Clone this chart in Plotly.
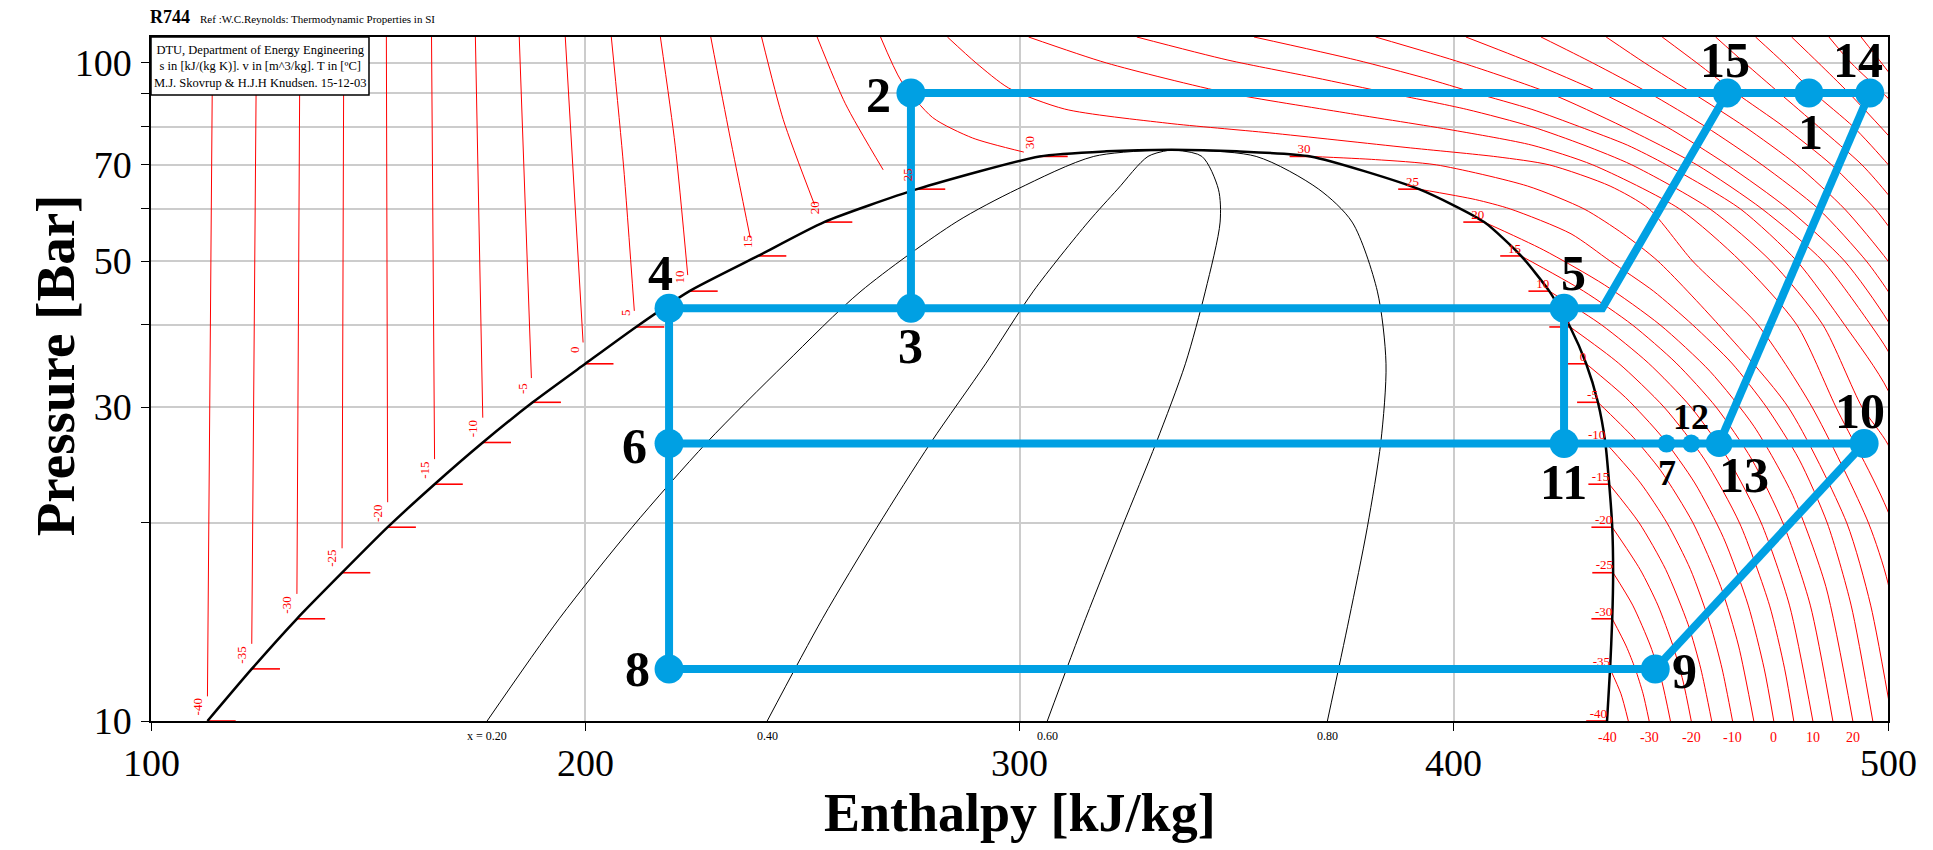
import math
import plotly.graph_objects as go

# ---------------- axes ----------------
H_RANGE = [100, 500]
P_RANGE = [10.0, 109.5]
x_ticks = [100, 200, 300, 400, 500]
y_ticks = [10, 20, 30, 40, 50, 60, 70, 80, 90, 100]
y_ticktext = ["10", "", "30", "", "50", "", "70", "", "", "100"]

# ---------------- saturation dome ----------------
sat_T = [-40, -35, -30, -25, -20, -15, -10, -5, 0, 5, 10, 15, 20, 25, 30]
sat_P = [10.0, 12.0, 14.3, 16.8, 19.7, 22.9, 26.5, 30.5, 34.9, 39.7, 45.0, 50.9, 57.3, 64.3, 72.1]
sat_hL = [113.0, 123.2, 133.6, 144.0, 154.5, 165.3, 176.4, 187.9, 200.0, 211.7, 224.0, 239.8, 255.0, 276.4, 304.6]
sat_hV = [435.3, 436.0, 436.5, 436.7, 436.5, 435.8, 434.9, 433.2, 430.5, 426.8, 422.0, 415.5, 407.0, 392.0, 367.0]
crit_h = [320.0, 335.0, 350.0]
crit_P = [73.4, 73.8, 73.4]

# ---------------- quality lines ----------------
qual_P = [10.0, 14.3, 19.7, 26.5, 34.9, 45.0, 57.3, 64.3, 72.1, 73.8]
qual_text = ["x = 0.20", "0.40", "0.60", "0.80"]
qual_h = [
    [177.4, 194.0, 210.8, 228.0, 246.0, 263.5, 285.4, 299.5, 317.1, 335.0],
    [241.9, 254.6, 267.2, 279.6, 292.2, 303.2, 315.8, 322.6, 329.6, 335.0],
    [306.4, 315.2, 323.6, 331.5, 338.2, 342.8, 346.2, 345.8, 342.0, 335.0],
    [370.9, 375.9, 380.1, 383.2, 384.4, 382.4, 376.6, 368.9, 354.5, 335.0],
]

# ---------------- liquid isotherms (T = -40 .. 30) ----------------
liq_h = [
    [114.2, 113.0], [124.3, 123.2], [134.3, 133.6], [144.4, 144.0], [154.2, 154.5],
    [164.6, 165.3], [174.7, 176.4], [184.8, 187.6], [195.4, 199.5],
    [206.0, 208.8, 211.3], [217.3, 220.7, 223.6], [228.9, 233.2, 238.0],
    [240.6, 245.6, 252.8], [253.4, 259.9, 268.6],
    [268.0, 272.8, 280.0, 289.2, 301.0],
]
liq_P = [
    [109.5, 10.9], [109.5, 13.1], [109.5, 15.6], [109.5, 18.3], [109.5, 21.5],
    [109.5, 25.0], [109.5, 28.9], [109.5, 33.2], [109.5, 37.6],
    [109.5, 70.0, 42.0], [109.5, 75.0, 47.6], [109.5, 78.0, 54.2],
    [109.5, 82.0, 60.9], [109.5, 86.7, 68.8],
    [109.5, 93.8, 82.6, 76.9, 73.2],
]

# ---------------- vapour isotherms (T = -35 .. 30) ----------------
vap_T = [-35, -30, -25, -20, -15, -10, -5, 0, 5, 10, 15, 20, 25, 30]
vap_h = [
    [436.0, 438.5, 440.2],
    [436.5, 439.7, 441.8, 443.6, 445.0],
    [436.7, 441.2, 445.3, 447.9, 449.9],
    [436.5, 442.9, 447.0, 450.5, 452.8, 454.7],
    [435.8, 442.7, 448.8, 454.0, 456.9, 459.4],
    [434.9, 443.0, 449.1, 454.5, 459.1, 461.8, 464.2],
    [433.2, 441.3, 447.7, 455.1, 461.5, 465.6, 469.1],
    [430.5, 439.6, 448.0, 455.5, 462.1, 467.8, 471.5, 473.7],
    [426.8, 437.9, 448.4, 457.7, 465.8, 472.7, 476.2, 478.3],
    [422.0, 434.0, 444.8, 454.6, 463.2, 470.8, 477.3, 482.7],
    [415.5, 429.9, 441.1, 451.2, 460.4, 468.6, 475.8, 482.1, 487.3],
    [407.0, 420.6, 434.7, 447.5, 459.0, 469.2, 478.1, 485.7, 491.9],
    [392.0, 405.0, 413.0, 427.0, 436.0, 446.0, 455.0, 464.0, 472.0, 479.5, 486.0, 491.5, 496.5],
    [367.0, 382.0, 396.0, 417.0, 430.0, 439.0, 447.0, 461.0, 477.0, 490.5, 496.0, 501.0],
]
vap_P = [
    [12.0, 11.0, 10.0],
    [14.3, 13.0, 12.0, 11.0, 10.0],
    [16.8, 15.0, 13.0, 11.5, 10.0],
    [19.7, 17.0, 15.0, 13.0, 11.5, 10.0],
    [22.9, 20.0, 17.0, 14.0, 12.0, 10.0],
    [26.5, 23.0, 20.0, 17.0, 14.0, 12.0, 10.0],
    [30.5, 27.0, 24.0, 20.0, 16.0, 13.0, 10.0],
    [34.9, 31.0, 27.0, 23.0, 19.0, 15.0, 12.0, 10.0],
    [39.7, 35.0, 30.0, 25.0, 20.0, 15.0, 12.0, 10.0],
    [45.0, 40.0, 35.0, 30.0, 25.0, 20.0, 15.0, 10.0],
    [50.9, 45.0, 40.0, 35.0, 30.0, 25.0, 20.0, 15.0, 10.0],
    [57.3, 52.0, 46.0, 40.0, 34.0, 28.0, 22.0, 16.0, 10.0],
    [64.3, 62.0, 60.0, 55.0, 50.0, 45.0, 40.0, 35.0, 30.0, 25.0, 20.0, 15.0, 10.0],
    [72.1, 71.3, 70.0, 65.0, 60.0, 55.0, 50.0, 40.0, 30.0, 20.0, 15.0, 10.0],
]

# ---------------- supercritical isotherms (T = 35 .. 100) ----------------
sc_T = [35, 40, 45, 50, 55, 60, 65, 70, 75, 80, 85, 90, 95, 100]
sc_h = [
    [283.4, 290.0, 297.5, 310.4, 334.0, 357.5, 389.0, 410.0, 422.0, 436.0, 445.0, 455.0, 470.0, 482.5, 495.5, 500.0, 505.0],
    [302.1, 320.0, 348.0, 375.0, 400.0, 418.0, 432.0, 452.0, 466.0, 479.0, 488.0, 501.0, 510.0],
    [327.0, 348.0, 368.0, 385.0, 403.0, 418.0, 430.0, 441.0, 459.0, 473.0, 485.0, 494.0, 500.0, 506.0],
    [354.0, 377.6, 393.0, 405.0, 418.0, 429.0, 440.0, 449.0, 466.0, 479.0, 490.0, 500.0, 510.0],
    [382.0, 402.0, 422.0, 439.0, 456.0, 471.0, 485.0, 496.0, 500.0, 506.0],
    [402.8, 418.0, 434.0, 449.0, 463.0, 477.0, 490.0, 500.0, 510.0],
    [420.1, 432.0, 445.0, 458.0, 471.0, 484.0, 495.0, 500.0, 510.0],
    [435.1, 444.0, 455.0, 467.0, 479.0, 490.0, 500.0, 510.0],
    [448.0, 456.0, 465.0, 476.0, 487.0, 497.0, 500.0, 510.0],
    [460.3, 467.0, 475.0, 484.0, 494.0, 500.0, 511.0],
    [469.5, 476.0, 483.0, 492.0, 500.0, 508.0],
    [477.8, 484.0, 491.0, 500.0, 506.0],
    [486.4, 491.5, 500.0, 506.0],
    [493.8, 498.5, 500.0, 504.0],
]
sc_P = [
    [109.5, 100.0, 91.6, 85.1, 81.0, 78.3, 74.4, 72.0, 70.0, 65.0, 60.0, 50.0, 40.0, 30.0, 20.0, 16.2, 10.0],
    [109.5, 100.0, 90.0, 84.0, 79.0, 75.0, 70.0, 60.0, 50.0, 40.0, 30.0, 20.0, 10.0],
    [109.5, 101.0, 95.0, 90.0, 85.0, 80.0, 75.0, 70.0, 60.0, 50.0, 40.0, 30.0, 26.3, 20.0],
    [109.5, 101.0, 95.0, 90.0, 85.0, 80.0, 75.0, 70.0, 60.0, 50.0, 40.0, 31.8, 20.0],
    [109.5, 100.0, 90.0, 80.0, 70.0, 60.0, 50.0, 40.0, 36.5, 30.0],
    [109.5, 100.0, 90.0, 80.0, 70.0, 60.0, 50.0, 40.5, 30.0],
    [109.5, 100.0, 90.0, 80.0, 70.0, 60.0, 50.0, 45.0, 35.0],
    [109.5, 100.0, 90.0, 80.0, 70.0, 60.0, 50.0, 40.0],
    [109.5, 100.0, 90.0, 80.0, 70.0, 60.0, 56.6, 45.0],
    [109.5, 100.0, 90.0, 80.0, 70.0, 63.1, 50.0],
    [109.5, 100.0, 90.0, 80.0, 70.1, 60.0],
    [109.5, 100.0, 90.0, 77.7, 70.0],
    [109.5, 100.0, 88.4, 80.0],
    [109.5, 100.0, 97.1, 90.0],
]

# temperature labels under the axis (isotherms crossing 10 bar)
bottom_T = [-40, -30, -20, -10, 0, 10, 20]
bottom_h = [435.3, 445.0, 454.7, 464.2, 473.7, 482.7, 491.9]

# ---------------- cycle state points ----------------
pt_label = ["1", "2", "3", "4", "5", "6", "7", "8", "9", "10", "11", "12", "13", "14", "15"]
pt_h = [481.8, 275.0, 275.0, 219.3, 425.4, 219.3, 449.0, 219.3, 446.4, 494.5, 425.4, 454.7, 461.1, 495.8, 463.0]
pt_P = [90.0, 90.0, 42.4, 42.4, 42.4, 26.4, 26.4, 12.0, 12.0, 26.4, 26.4, 26.4, 26.4, 90.0, 90.0]
kink_h, kink_P = 434.2, 42.4
cycle_paths = [["2", "15", "1", "14"], ["2", "3"], ["4", "3", "5", "k", "15"], ["4", "6", "8"],
               ["5", "11"], ["6", "11", "7", "12", "13", "10"], ["13", "14"], ["8", "9"], ["9", "10"]]

# ---------------- styles ----------------
SERIF = "Liberation Serif"
RED = "#ff0000"
BLUE = "#00a0e3"
small_pts = {"7": 18, "12": 18, "13": 27}
label_shift = {"1": (2, -39), "2": (-32, -2), "3": (0, -38), "4": (-9, 35), "5": (9, 35),
               "6": (-35, -2), "7": (0, -29), "8": (-32, 0), "9": (29, -2), "10": (-4, 33),
               "11": (-1, -38), "12": (0, 27), "13": (25, -31), "14": (-12, 33), "15": (-2, 33)}


def join(hs, ps):
    xs, ys = [], []
    for h, p in zip(hs, ps):
        xs += list(h) + [None]
        ys += list(p) + [None]
    return xs, ys


fig = go.Figure()

# quality lines
for qh in qual_h:
    fig.add_trace(go.Scatter(x=qh, y=qual_P, mode="lines", line=dict(color="black", width=1,
                             shape="spline", smoothing=0.8), hoverinfo="skip"))

# isotherms
for hs, ps in [(liq_h, liq_P), (vap_h, vap_P), (sc_h, sc_P)]:
    xs, ys = join(hs, ps)
    fig.add_trace(go.Scatter(x=xs, y=ys, mode="lines", line=dict(color=RED, width=1,
                             shape="spline", smoothing=0.7), hoverinfo="skip"))

# saturation ticks
tx, ty = [], []
for hL, hV, p in zip(sat_hL, sat_hV, sat_P):
    tx += [hL, hL + 6.5, None, hV - 4.8, hV, None]
    ty += [p, p, None, p, p, None]
fig.add_trace(go.Scatter(x=tx, y=ty, mode="lines", line=dict(color=RED, width=1.6), hoverinfo="skip"))

# dome
dome_x = sat_hL + crit_h + sat_hV[::-1]
dome_y = sat_P + crit_P + sat_P[::-1]
fig.add_trace(go.Scatter(x=dome_x, y=dome_y, mode="lines",
                         line=dict(color="black", width=2.5, shape="spline", smoothing=0.6),
                         hoverinfo="skip"))

# vapour side labels
fig.add_trace(go.Scatter(x=sat_hV, y=sat_P, mode="text", text=[str(t) for t in sat_T],
                         textposition="top left", textfont=dict(family=SERIF, size=13, color=RED),
                         hoverinfo="skip", cliponaxis=False))

# cycle lines
idx = {l: i for i, l in enumerate(pt_label)}
cx, cy = [], []
for path in cycle_paths:
    for p in path:
        if p == "k":
            cx.append(kink_h)
            cy.append(kink_P)
        else:
            cx.append(pt_h[idx[p]])
            cy.append(pt_P[idx[p]])
    cx.append(None)
    cy.append(None)
fig.add_trace(go.Scatter(x=cx, y=cy, mode="lines", line=dict(color=BLUE, width=8), hoverinfo="skip"))
fig.add_trace(go.Scatter(x=pt_h, y=pt_P, mode="markers",
                         marker=dict(color=BLUE, opacity=1, line=dict(width=0),
                                     size=[small_pts.get(l, 29) for l in pt_label]),
                         hoverinfo="skip", cliponaxis=False))

ann = []
# x tick labels
for v in x_ticks:
    ann.append(dict(x=v, y=1.0, text=str(v), showarrow=False, yshift=-42, yanchor="middle",
                    font=dict(family=SERIF, size=38, color="black")))
# liquid side labels (rotated)
for t, hL, p in zip(sat_T, sat_hL, sat_P):
    ann.append(dict(x=hL, y=math.log10(p), text=str(t), textangle=-90, showarrow=False,
                    xshift=-10, yshift=14, font=dict(family=SERIF, size=13, color=RED)))
# quality labels
for txt, qh in zip(qual_text, qual_h):
    ann.append(dict(x=qh[0], y=1.0, text=txt, showarrow=False, yshift=-15,
                    font=dict(family=SERIF, size=12, color="black")))
# bottom temperature labels
for t, h in zip(bottom_T, bottom_h):
    ann.append(dict(x=h, y=1.0, text=str(t), showarrow=False, yshift=-16,
                    font=dict(family=SERIF, size=14, color=RED)))
# state point labels
for l, h, p in zip(pt_label, pt_h, pt_P):
    dx, dy = label_shift[l]
    ann.append(dict(x=h, y=math.log10(p), text=l, showarrow=False, xshift=dx, yshift=dy,
                    font=dict(family=SERIF, size=36 if l in ("7", "12") else 50, color="black",
                              weight="bold")))
# titles
ann.append(dict(xref="paper", yref="paper", x=0.5, y=-0.134, text="Enthalpy [kJ/kg]", showarrow=False,
                font=dict(family=SERIF, size=54, color="black", weight="bold"), yanchor="middle"))
ann.append(dict(xref="paper", yref="paper", x=-0.0553, y=0.52, text="Pressure [Bar]", showarrow=False,
                textangle=-90, font=dict(family=SERIF, size=55, color="black", weight="bold"),
                xanchor="center", yanchor="middle"))
ann.append(dict(xref="paper", yref="paper", x=-0.002, y=1.029, text="R744", showarrow=False,
                xanchor="left", yanchor="middle",
                font=dict(family=SERIF, size=18, color="black", weight="bold")))
ann.append(dict(xref="paper", yref="paper", x=0.027, y=1.026,
                text="Ref :W.C.Reynolds: Thermodynamic Properties in SI", showarrow=False,
                xanchor="left", yanchor="middle", font=dict(family=SERIF, size=11, color="black")))
ann.append(dict(xref="paper", yref="paper", x=0.0628, y=0.957,
                text="DTU, Department of Energy Engineering<br>s in [kJ/(kg K)]. v in [m^3/kg]. T in [ºC]"
                     "<br>M.J. Skovrup &amp; H.J.H Knudsen. 15-12-03",
                showarrow=False, xanchor="center", yanchor="middle", align="center",
                font=dict(family=SERIF, size=12.5, color="black")))

fig.update_layout(
    width=1933, height=850, autosize=False,
    margin=dict(l=143, r=53, t=29, b=137),
    paper_bgcolor="white", plot_bgcolor="white",
    showlegend=False,
    annotations=ann,
    shapes=[dict(type="rect", xref="paper", yref="paper", x0=0, x1=0.1255, y0=0.9152, y1=1.0,
                 fillcolor="white", line=dict(color="black", width=1.5), layer="above")],
    xaxis=dict(range=H_RANGE, tickvals=x_ticks, ticktext=["" for v in x_ticks],
               showgrid=True, gridcolor="#cccccc", gridwidth=1.5, zeroline=False,
               showline=True, linecolor="black", linewidth=1.5, mirror=True,
               ticks="outside", ticklen=8, tickcolor="black",
               tickfont=dict(family=SERIF, size=38, color="black"), automargin=False),
    yaxis=dict(type="log", range=[math.log10(P_RANGE[0]), math.log10(P_RANGE[1])],
               tickvals=y_ticks, ticktext=y_ticktext,
               showgrid=True, gridcolor="#cccccc", gridwidth=1.5, zeroline=False,
               showline=True, linecolor="black", linewidth=1.5, mirror=True,
               ticks="outside", ticklen=8, tickcolor="black", ticklabelstandoff=2,
               tickfont=dict(family=SERIF, size=38, color="black"), automargin=False),
)

fig.write_html("out.html")
